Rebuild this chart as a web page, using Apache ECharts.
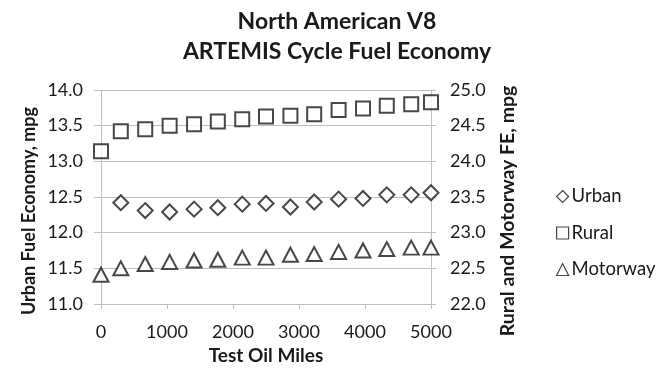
<!DOCTYPE html>
<html>
<head>
<meta charset="utf-8">
<script src="https://cdn.jsdelivr.net/npm/echarts@6/dist/echarts.min.js"></script>
<style>
  html, body { margin: 0; padding: 0; background: #fff; }
  #chart { width: 670px; height: 370px; }
</style>
</head>
<body>
<div id="chart"></div>
<script>
// Test oil mileage at each ARTEMIS cycle check
const testMiles = [0, 300, 670, 1040, 1410, 1770, 2140, 2500, 2870, 3230, 3600, 3970, 4330, 4700, 5000];
// Urban fuel economy, mpg (left axis); no run at 0 miles
const urbanMpg = [null, 12.42, 12.31, 12.29, 12.33, 12.35, 12.40, 12.41, 12.36, 12.43, 12.47, 12.48, 12.53, 12.53, 12.56];
// Rural and motorway fuel economy, mpg (right axis)
const ruralMpg = [24.14, 24.42, 24.45, 24.50, 24.52, 24.56, 24.59, 24.63, 24.64, 24.66, 24.72, 24.74, 24.78, 24.80, 24.83];
const motorwayMpg = [22.41, 22.50, 22.56, 22.59, 22.61, 22.62, 22.65, 22.65, 22.69, 22.70, 22.73, 22.75, 22.77, 22.79, 22.79];

const FONT = 'Lato';
const INK = '#1a1a1a';
const GRID = '#bfbfbf';

function pairs(ys) {
  const out = [];
  ys.forEach((y, i) => { if (y !== null) out.push([testMiles[i], y]); });
  return out;
}

const marker = { color: '#fff', borderColor: INK, borderWidth: 2 };
const oneDecimal = v => v.toFixed(1);

const chart = echarts.init(document.getElementById('chart'), null, { renderer: 'canvas' });
chart.setOption({
  animation: false,
  backgroundColor: '#fff',
  textStyle: { fontFamily: FONT, color: INK },
  title: {
    text: 'North American V8\nARTEMIS Cycle Fuel Economy',
    left: 332, top: 2, textAlign: 'center',
    textStyle: { fontFamily: FONT, fontWeight: 'bold', fontSize: 23, lineHeight: 30, color: INK }
  },
  legend: {
    orient: 'vertical', left: 551, top: 182, itemGap: 17.5,
    itemWidth: 12, itemHeight: 12,
    textStyle: { fontFamily: FONT, fontSize: 18.5, color: INK, padding: [0, 0, 0, -2] },
    itemStyle: { borderWidth: 1.2 },
    data: ['Urban', 'Rural', 'Motorway']
  },
  grid: { left: 101, right: 239, top: 90, bottom: 66 },
  xAxis: {
    type: 'value', min: 0, max: 5000, interval: 1000,
    name: 'Test Oil Miles', nameLocation: 'middle', nameGap: 39,
    nameTextStyle: { fontFamily: FONT, fontWeight: 'bold', fontSize: 19, color: INK },
    axisLine: { show: true, lineStyle: { color: GRID, width: 1 } },
    axisTick: { show: true, length: 5, lineStyle: { color: GRID } },
    axisLabel: { fontFamily: FONT, fontSize: 18, color: INK, margin: 19, formatter: v => String(v) },
    splitLine: { show: false }
  },
  yAxis: [{
    type: 'value', min: 11, max: 14, interval: 0.5, position: 'left',
    name: 'Urban Fuel Economy, mpg', nameLocation: 'middle', nameGap: 63,
    nameTextStyle: { fontFamily: FONT, fontWeight: 'bold', fontSize: 18, color: INK, padding: [0, 28, 0, 0] },
    axisLine: { show: true, lineStyle: { color: GRID, width: 1 } },
    axisTick: { show: true, length: 7, lineStyle: { color: GRID } },
    axisLabel: { fontFamily: FONT, fontSize: 18, color: INK, margin: 18, formatter: oneDecimal },
    splitLine: { show: true, lineStyle: { color: GRID, width: 1 } }
  }, {
    type: 'value', min: 22, max: 25, interval: 0.5, position: 'right',
    name: 'Rural and Motorway FE, mpg', nameLocation: 'middle', nameGap: 67,
    nameTextStyle: { fontFamily: FONT, fontWeight: 'bold', fontSize: 19.5, color: INK, padding: [0, 28, 0, 0] },
    axisLine: { show: true, lineStyle: { color: GRID, width: 1 } },
    axisTick: { show: true, length: 5, lineStyle: { color: GRID } },
    axisLabel: { fontFamily: FONT, fontSize: 18, color: INK, margin: 19, formatter: oneDecimal },
    splitLine: { show: false }
  }],
  series: [{
    name: 'Urban', type: 'scatter', yAxisIndex: 0,
    symbol: 'diamond', symbolSize: 15, itemStyle: marker,
    data: pairs(urbanMpg)
  }, {
    name: 'Rural', type: 'scatter', yAxisIndex: 1,
    symbol: 'rect', symbolSize: 14, itemStyle: marker,
    data: pairs(ruralMpg)
  }, {
    name: 'Motorway', type: 'scatter', yAxisIndex: 1,
    symbol: 'triangle', symbolSize: [15, 14], itemStyle: marker,
    data: pairs(motorwayMpg)
  }]
});
</script>
</body>
</html>
